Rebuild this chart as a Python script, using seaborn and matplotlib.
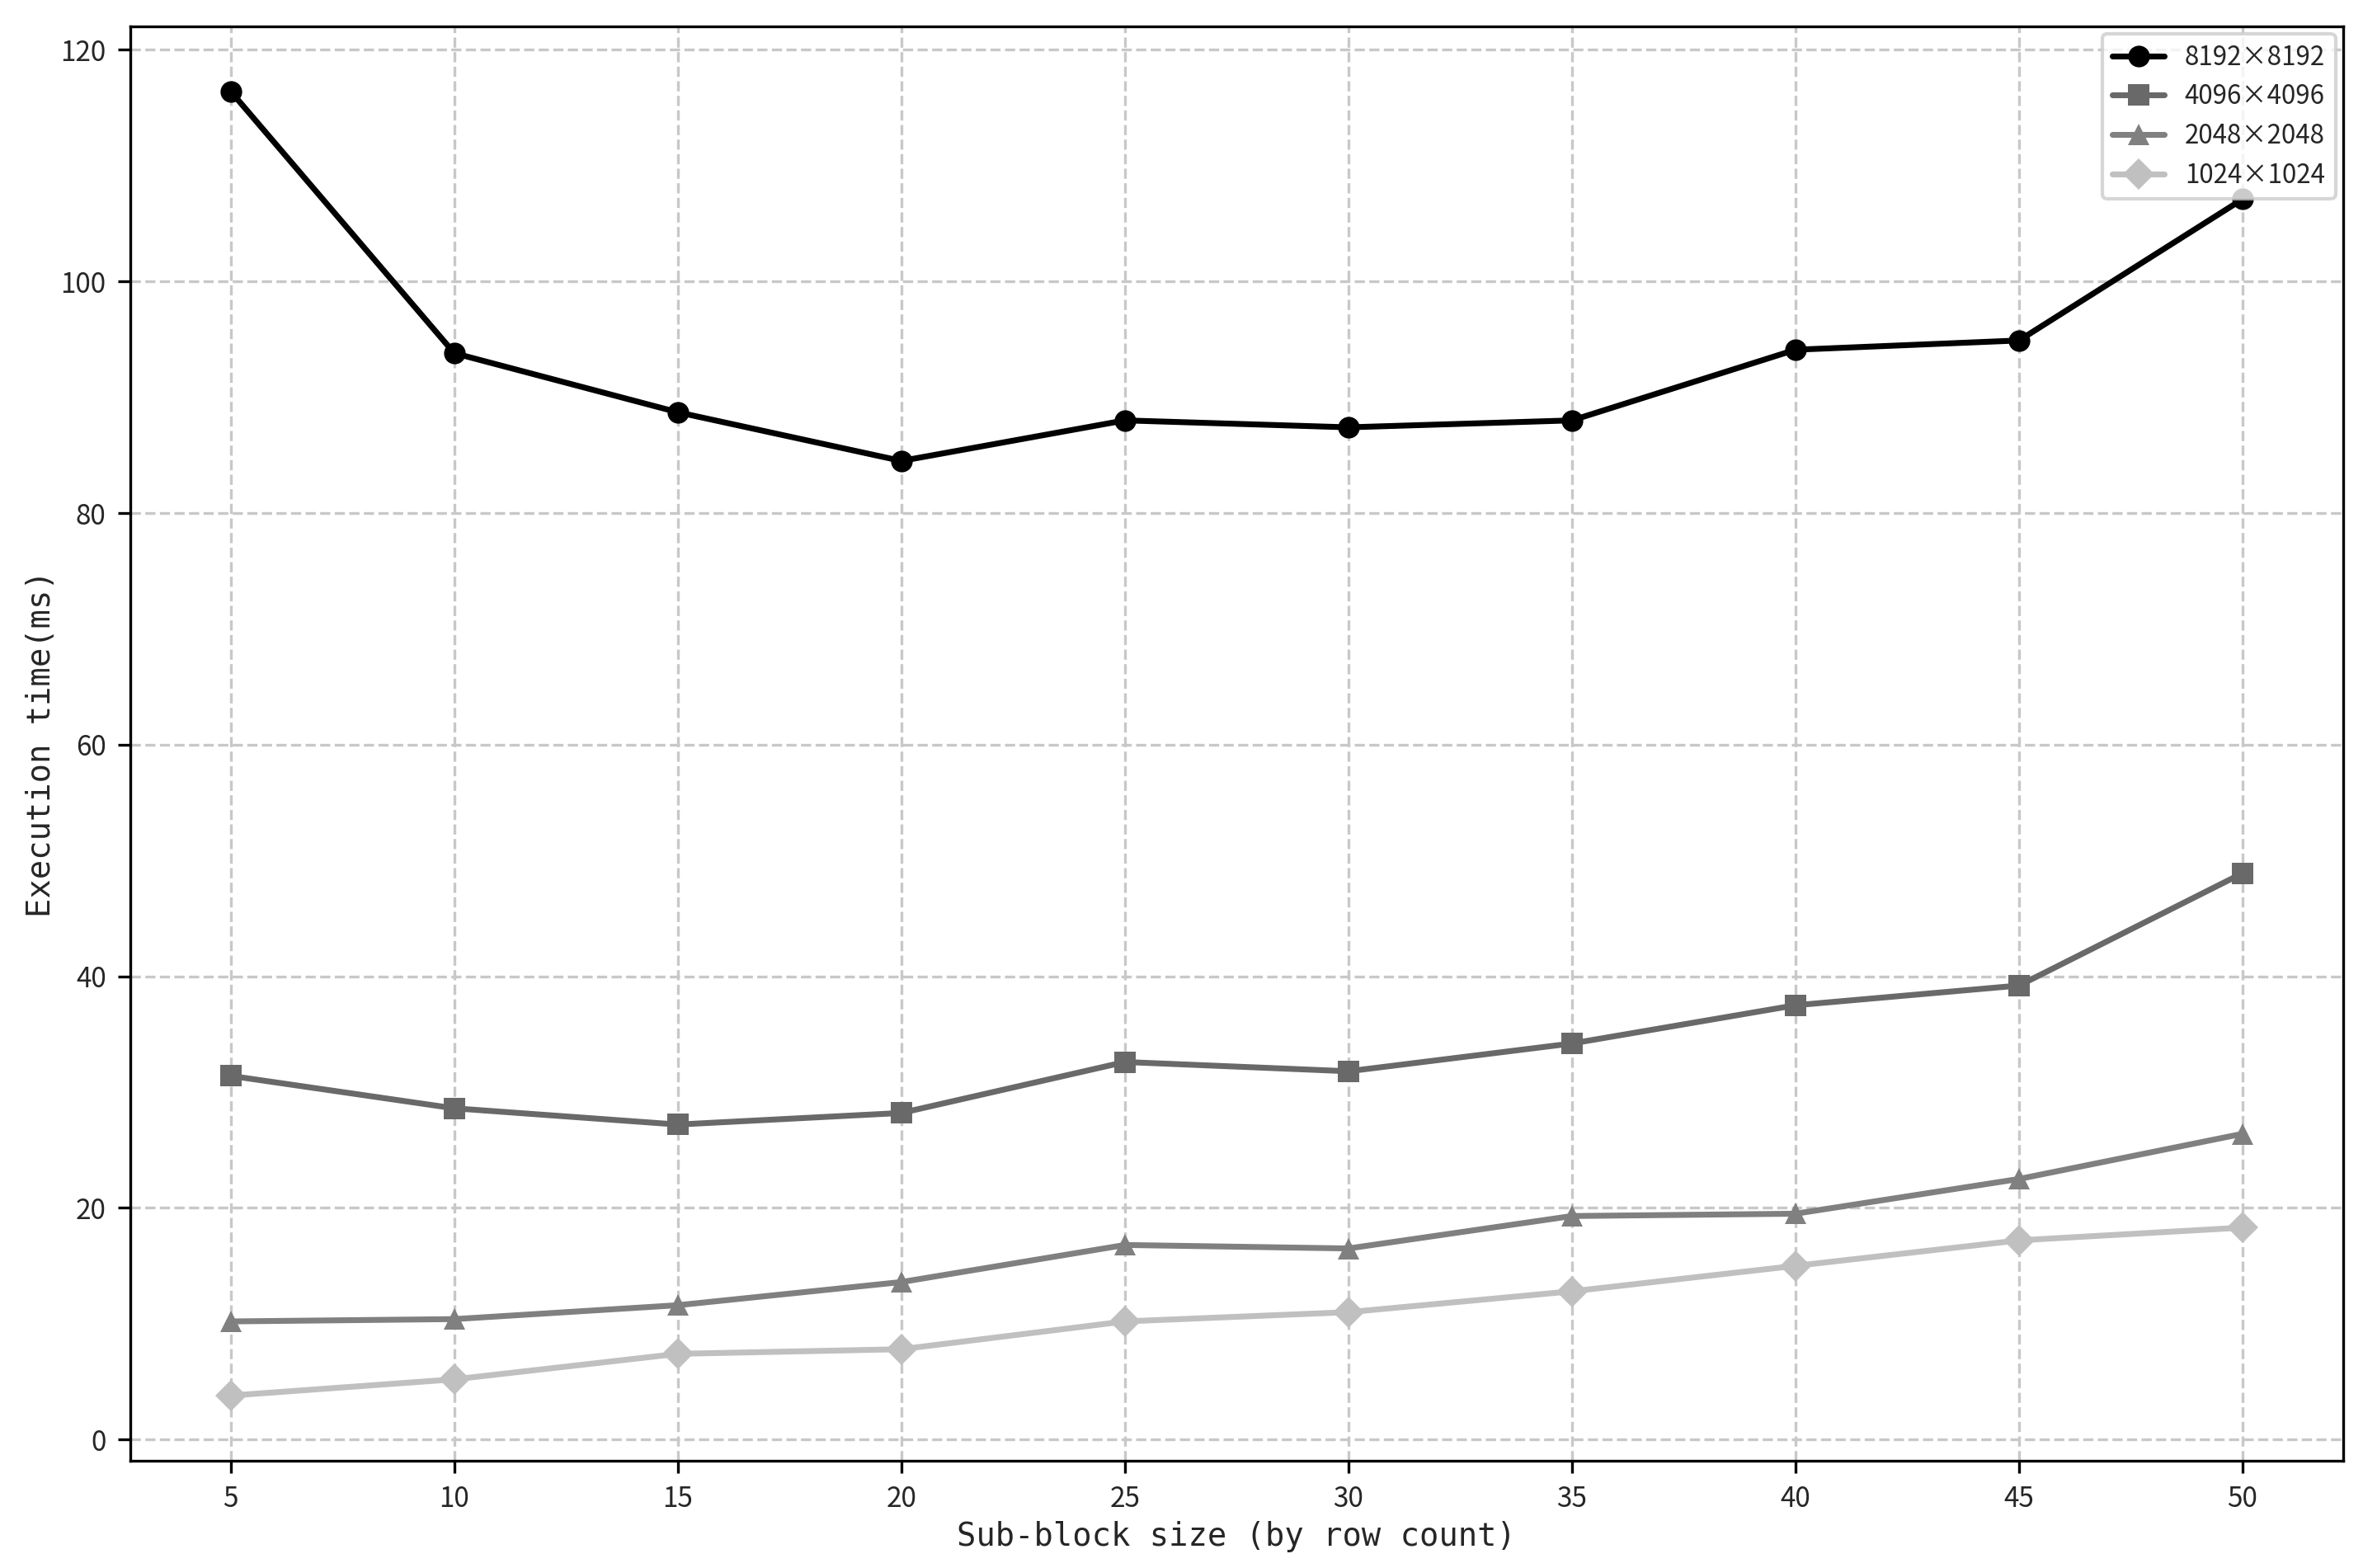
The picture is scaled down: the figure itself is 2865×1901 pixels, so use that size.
import matplotlib
matplotlib.use("Agg")
import matplotlib.pyplot as plt
import pandas as pd
import seaborn as sns

block_sizes = [5, 10, 15, 20, 25, 30, 35, 40, 45, 50]
t_8192 = [116.4, 93.8, 88.7, 84.5, 88.0, 87.4, 88.0, 94.1, 94.9, 107.1]
t_4096 = [31.4, 28.6, 27.2, 28.2, 32.6, 31.8, 34.2, 37.5, 39.2, 48.9]
t_2048 = [10.2, 10.4, 11.6, 13.6, 16.8, 16.5, 19.3, 19.5, 22.5, 26.4]
t_1024 = [3.8, 5.2, 7.4, 7.8, 10.2, 11.0, 12.8, 15.0, 17.2, 18.3]
labels = ["8192×8192", "4096×4096", "2048×2048", "1024×1024"]

colors = ["#000000", "#696969", "#808080", "#c0c0c0"]
markers = ["o", "s", "^", "D"]

rows = []
for lab, vals in zip(labels, [t_8192, t_4096, t_2048, t_1024]):
    for x, y in zip(block_sizes, vals):
        rows.append({"size": x, "time": y, "matrix": lab})
df = pd.DataFrame(rows)

sns.set_style("ticks")
plt.rcParams['font.family'] = ['Noto Sans CJK SC', 'DejaVu Sans']
plt.rcParams['axes.unicode_minus'] = False

fig = plt.figure(figsize=(9.55, 6.337), dpi=300)
ax = fig.add_axes([0.0551, 0.0684, 0.9365, 0.9148])

sns.lineplot(data=df, x="size", y="time", hue="matrix", style="matrix",
             hue_order=labels, style_order=labels, palette=colors,
             markers=markers, dashes=False, linewidth=1.7, markersize=6.3,
             markeredgewidth=0, errorbar=None, ax=ax)

ax.set_xticks(block_sizes)
ax.set_yticks([0, 20, 40, 60, 80, 100, 120])
ax.tick_params(labelsize=8, width=0.8, length=3.5, color="black")
ax.grid(True, linestyle="--", color="#c8c8c8", linewidth=0.8)
for sp in ax.spines.values():
    sp.set_visible(True)
    sp.set_color("black")
    sp.set_linewidth(0.8)

# the original labels use a monospaced-looking CJK font
ax.set_xlabel("Sub-block size (by row count)", fontsize=9.3,
              family=["DejaVu Sans Mono"], labelpad=2)
ax.set_ylabel("Execution time(ms)", fontsize=9.3,
              family=["DejaVu Sans Mono"], labelpad=1)

handles, labs = ax.get_legend_handles_labels()
ax.legend(handles, labs, loc="upper right", fontsize=7.5, frameon=True,
          fancybox=True, borderaxespad=0.3)

fig.savefig("out.png", dpi=300)
